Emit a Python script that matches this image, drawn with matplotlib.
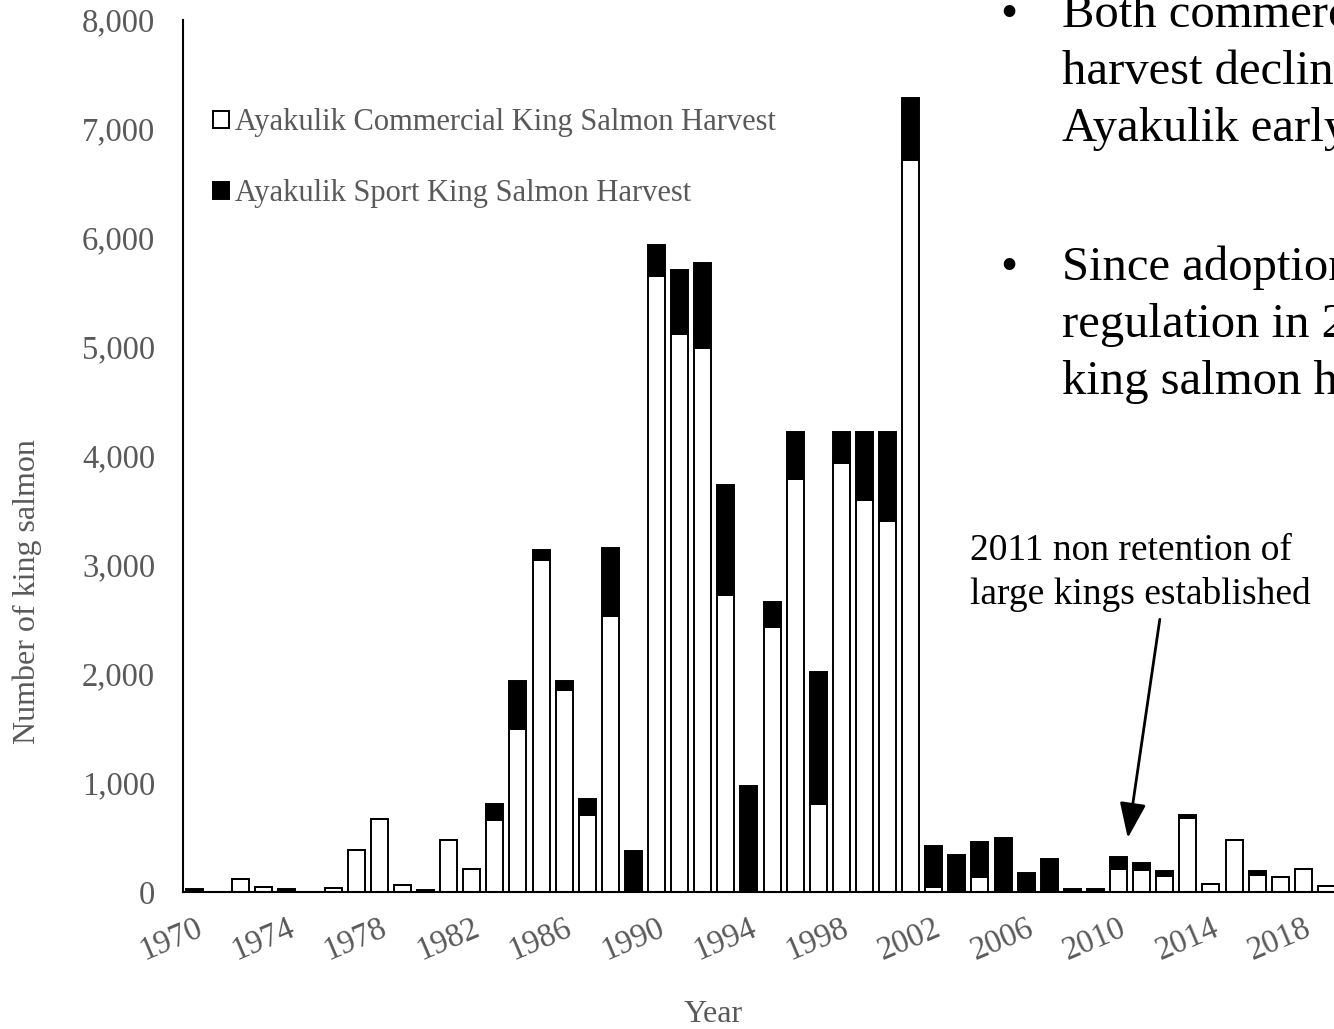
import matplotlib
matplotlib.use("Agg")
import matplotlib.pyplot as plt
from matplotlib.ticker import FuncFormatter

years = list(range(1970, 2020))
commercial = [0, 0, 115, 45, 0, 0, 40, 385, 670, 60,
              0, 480, 215, 660, 1495, 3045, 1855, 710, 2535, 0,
              5650, 5120, 4990, 2725, 0, 2435, 3790, 805, 3940, 3595,
              3405, 6715, 45, 0, 140, 0, 0, 0, 0, 0,
              215, 200, 145, 675, 75, 475, 160, 135, 210, 55]
sport = [25, 0, 0, 0, 25, 0, 0, 0, 0, 0,
         20, 0, 0, 150, 445, 95, 85, 145, 620, 380,
         285, 585, 785, 1005, 970, 225, 430, 1210, 280, 625,
         815, 565, 375, 340, 320, 500, 175, 305, 25, 25,
         110, 70, 50, 30, 0, 0, 30, 0, 0, 0]
tick_years = list(range(1970, 2020, 4))
labels = ["Ayakulik Commercial King Salmon Harvest", "Ayakulik Sport King Salmon Harvest"]
bullets = [["Both commercial and sport", "harvest declined in the", "Ayakulik early run"],
           ["Since adoption of the", "regulation in 2011, sport", "king salmon harvest"]]

plt.rcParams["font.family"] = ["Liberation Serif", "DejaVu Serif"]
gray = "#595959"

W, H = 1334, 1029
fig = plt.figure(figsize=(W / 100, H / 100), dpi=100)
ax = fig.add_axes([183 / W, 1 - 892 / H, (1338 - 183) / W, (892 - 20) / H])

bw = 0.74
ax.bar(years, commercial, width=bw, color="white", edgecolor="black", linewidth=1.4,
       label=labels[0], zorder=2)
ax.bar(years, sport, width=bw, bottom=commercial, color="black", edgecolor="black",
       linewidth=1.4, label=labels[1], zorder=2)

ax.set_xlim(1969.5, 2019.5)
ax.set_ylim(0, 8000)
ax.set_yticks(range(0, 8001, 1000))
ax.yaxis.set_major_formatter(FuncFormatter(lambda v, p: f"{int(v):,}"))
ax.set_xticks(tick_years)
ax.set_xticklabels([str(y) for y in tick_years], rotation=23, ha="right",
                   rotation_mode="anchor")
ax.tick_params(axis="both", length=0, labelsize=23.5, labelcolor=gray)
ax.tick_params(axis="y", pad=20)
ax.tick_params(axis="x", pad=15)
for s in ["top", "right"]:
    ax.spines[s].set_visible(False)
for s in ["left", "bottom"]:
    ax.spines[s].set_linewidth(1.5)
    ax.spines[s].set_color("black")

leg = fig.legend(loc="upper left", bbox_to_anchor=(198 / W, 1 - 93 / H), frameon=False,
                 fontsize=22, handlelength=0.5, handleheight=0.5, handletextpad=0.2,
                 labelspacing=1.38, borderpad=0)
for t in leg.get_texts():
    t.set_color(gray)

fig.text(27 / W, 1 - 592 / H, "Number of king salmon", rotation=90, ha="center",
         va="center", fontsize=23, color=gray)
fig.text(713 / W, 1 - 1015 / H, "Year", ha="center", va="center", fontsize=23, color=gray)

ax.annotate("2011 non retention of\nlarge kings established", xy=(2010.4, 495),
            xytext=(970, H - 534), textcoords="figure pixels", ha="left", va="top",
            fontsize=27, linespacing=1.33,
            arrowprops=dict(arrowstyle="-|>,head_length=0.8,head_width=0.3", color="black",
                            lw=2, relpos=(0.56, 0), shrinkA=3, shrinkB=0))

for block, base in zip(bullets, [27, 280]):
    fig.text(1009 / W, 1 - base / H, "\u2022", ha="center", va="baseline", fontsize=35)
    for i, line in enumerate(block):
        fig.text(1062 / W, 1 - (base + i * 57) / H, line, ha="left", va="baseline",
                 fontsize=35)

fig.savefig("out.png", dpi=100)
